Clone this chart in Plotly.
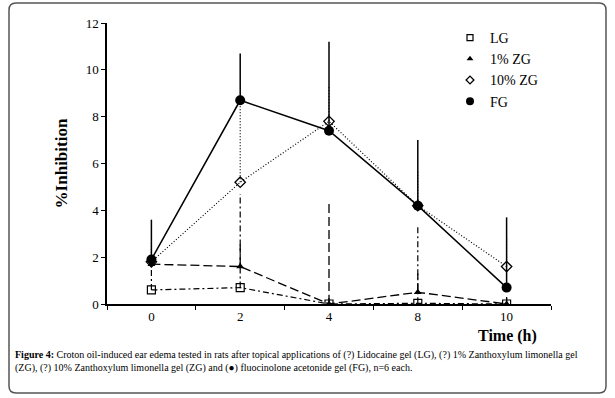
import plotly.graph_objects as go

times = ["0", "2", "4", "8", "10"]

lg_vals = [0.6, 0.7, 0.0, 0.03, 0.0]
lg_err = [1.1, 4.0, 0.4, 3.3, 0.3]
zg1_vals = [1.7, 1.6, 0.0, 0.5, 0.0]
zg1_err = [0.3, 1.0, 4.3, 0.8, 0.3]
zg10_vals = [1.8, 5.2, 7.8, 4.2, 1.6]
zg10_err = [0.8, 3.5, 1.5, 1.5, 1.2]
fg_vals = [1.9, 8.7, 7.4, 4.2, 0.7]
fg_err = [1.7, 2.0, 3.8, 2.8, 3.0]

series = [
    dict(name="LG", vals=lg_vals, err=lg_err, dash="6px,3px,2px,3px", width=1.2,
         marker=dict(symbol="square-open", size=8, color="black", line=dict(width=1.2, color="black"))),
    dict(name="1% ZG", vals=zg1_vals, err=zg1_err, dash="9px,4px", width=1.3,
         marker=dict(symbol="triangle-up", size=7, color="black")),
    dict(name="10% ZG", vals=zg10_vals, err=zg10_err, dash="1px,2px", width=1.2,
         marker=dict(symbol="diamond-open", size=8, color="black", line=dict(width=1.3, color="black"))),
    dict(name="FG", vals=fg_vals, err=fg_err, dash="solid", width=1.5,
         marker=dict(symbol="circle", size=10, color="black")),
]

fig = go.Figure()

# error bars (upper only) drawn with each series' line style
for s in series:
    ex, ey = [], []
    for t, v, e in zip(times, s["vals"], s["err"]):
        ex += [t, t, None]
        ey += [v, v + e, None]
    fig.add_trace(go.Scatter(x=ex, y=ey, mode="lines", showlegend=False, hoverinfo="skip",
                             line=dict(color="black", width=s["width"], dash=s["dash"])))

# series lines and markers
for s in series:
    fig.add_trace(go.Scatter(x=times, y=s["vals"], mode="lines+markers", name=s["name"],
                             showlegend=False,
                             line=dict(color="black", width=s["width"], dash=s["dash"]),
                             marker=s["marker"]))

# legend entries: markers only
for s in series:
    m = dict(s["marker"])
    m["size"] = max(6, m["size"] - 2)
    fig.add_trace(go.Scatter(x=[None], y=[None], mode="markers", name=s["name"], marker=m))

W, H = 615, 398
L, R, T, B = 107, 64, 23, 94
pw, ph = W - L - R, H - T - B

def px(x):
    return (x - L) / pw

def py(y):
    return (H - B - y) / ph

# rounded border path in paper coords
x0, x1, y0, y1 = px(9), px(606), py(393), py(3)
rx, ry = 7 / pw, 7 / ph
path = (f"M {x0+rx},{y1} L {x1-rx},{y1} Q {x1},{y1} {x1},{y1-ry} "
        f"L {x1},{y0+ry} Q {x1},{y0} {x1-rx},{y0} L {x0+rx},{y0} "
        f"Q {x0},{y0} {x0},{y0+ry} L {x0},{y1-ry} Q {x0},{y1} {x0+rx},{y1} Z")

serif = "Liberation Serif, Times New Roman, serif"

fig.update_layout(
    width=W, height=H,
    margin=dict(l=L, r=R, t=T, b=B),
    paper_bgcolor="white", plot_bgcolor="white",
    font=dict(family=serif, size=13, color="black"),
    showlegend=True,
    legend=dict(x=px(450), y=py(22), xanchor="left", yanchor="top",
                font=dict(family=serif, size=14, color="black"),
                itemwidth=30, tracegroupgap=0, bgcolor="rgba(0,0,0,0)"),
    xaxis=dict(type="category", categoryorder="array", categoryarray=times,
               range=[-0.5, 4.5], showgrid=False, zeroline=False,
               showline=True, linecolor="black", linewidth=1.5,
               ticks="outside", tickson="boundaries", ticklen=4, tickcolor="black",
               tickfont=dict(family=serif, size=13)),
    yaxis=dict(range=[0, 12], dtick=2, showgrid=False, zeroline=False,
               showline=True, linecolor="black", linewidth=1.5,
               ticks="outside", ticklen=4, tickcolor="black",
               tickfont=dict(family=serif, size=13),
               title=dict(text="<b>%Inhibition</b>", font=dict(family=serif, size=17), standoff=14)),
    shapes=[dict(type="path", path=path, xref="paper", yref="paper",
                 line=dict(color="#555555", width=1.5), fillcolor="rgba(0,0,0,0)", layer="above")],
    annotations=[
        dict(text="<b>Time (h)</b>", x=px(507), y=py(336), xref="paper", yref="paper",
             xanchor="center", yanchor="middle", showarrow=False,
             font=dict(family=serif, size=16)),
        dict(text="<b>Figure 4:</b> Croton oil-induced ear edema tested in rats after topical applications of (?) Lidocaine gel (LG), (?) 1% Zanthoxylum limonella gel<br>"
                  "(ZG), (?) 10% Zanthoxylum limonella gel (ZG) and (●) fluocinolone acetonide gel (FG), n=6 each.",
             x=px(13), y=py(347), xref="paper", yref="paper", xanchor="left", yanchor="top",
             align="left", showarrow=False,
             font=dict(family=serif, size=10)),
    ],
)

fig.write_html("out.html", config={"displayModeBar": False},
               post_script="document.body.style.margin='0';document.body.style.overflow='hidden';")
